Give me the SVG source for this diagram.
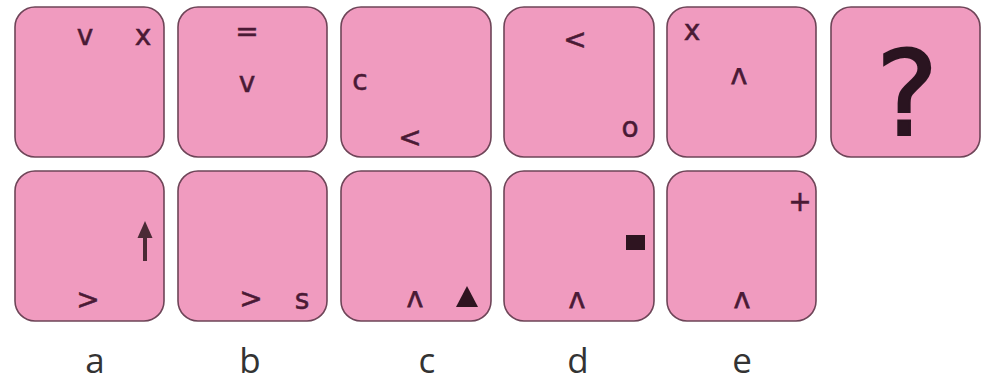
<svg xmlns="http://www.w3.org/2000/svg" width="986" height="384" viewBox="0 0 986 384">
<style>
.box{fill:#F09BBF;stroke:#6E4558;stroke-width:1.6}
.s{font-family:"DejaVu Sans",sans-serif;font-size:28px;fill:#4A1A35;stroke:#4A1A35;stroke-width:0.5;text-anchor:middle}
.car{font-family:"Liberation Sans",Arial,sans-serif;font-size:42px;fill:#4A1A35;stroke:#4A1A35;stroke-width:0.8;text-anchor:middle}
.lbl{font-family:"Open Sans","DejaVu Sans",sans-serif;font-size:35px;fill:#333;text-anchor:middle}
.shape{fill:#2E1420}
</style>
<rect width="986" height="384" fill="#fff"/>
<g id="t1"><rect class="box" x="15" y="7" width="149" height="150" rx="20"/><text class="s" x="85" y="45">v</text><text class="s" x="143" y="45">x</text></g>
<g id="t2"><rect class="box" x="178" y="7" width="149" height="150" rx="20"/><text class="s" x="247" y="41">=</text><text class="s" x="247" y="92">v</text></g>
<g id="t3"><rect class="box" x="341" y="7" width="150" height="150" rx="20"/><text class="s" x="360" y="90">c</text><text class="s" x="410" y="147">&lt;</text></g>
<g id="t4"><rect class="box" x="504" y="7" width="150" height="150" rx="20"/><text class="s" x="575" y="49">&lt;</text><text class="s" x="630" y="137">o</text></g>
<g id="t5"><rect class="box" x="667" y="7" width="149" height="150" rx="20"/><text class="s" x="692" y="40">x</text><text class="car" transform="translate(739,98) scale(0.78,1)">^</text></g>
<g id="t6"><rect class="box" x="831" y="7" width="149" height="150" rx="20"/><text x="907" y="135" font-family="DejaVu Sans,sans-serif" font-size="118" fill="#2A1420" stroke="#2A1420" stroke-width="2" text-anchor="middle">?</text></g>
<g id="a"><rect class="box" x="15" y="171" width="149" height="150" rx="20"/><text class="s" x="88" y="309">&gt;</text><line x1="145" y1="261" x2="145" y2="234" stroke="#4A2A35" stroke-width="4"/><polygon points="137.5,238 152.5,238 145,221" fill="#4A2A35"/><text class="lbl" x="95" y="373">a</text></g>
<g id="b"><rect class="box" x="178" y="171" width="149" height="150" rx="20"/><text class="s" x="251" y="308">&gt;</text><text class="s" x="302" y="309">s</text><text class="lbl" x="250" y="373">b</text></g>
<g id="c"><rect class="box" x="341" y="171" width="150" height="150" rx="20"/><text class="car" transform="translate(415,321) scale(0.78,1)">^</text><polygon class="shape" points="456,307 478,307 467,286"/><text class="lbl" x="427" y="373">c</text></g>
<g id="d"><rect class="box" x="504" y="171" width="150" height="150" rx="20"/><text class="car" transform="translate(577,322) scale(0.78,1)">^</text><rect class="shape" x="626" y="235" width="19" height="15"/><text class="lbl" x="578" y="373">d</text></g>
<g id="e"><rect class="box" x="667" y="171" width="149" height="150" rx="20"/><text class="s" x="800" y="211">+</text><text class="car" transform="translate(742,322) scale(0.78,1)">^</text><text class="lbl" x="742" y="373">e</text></g>
<g id="connectors"/>
</svg>
